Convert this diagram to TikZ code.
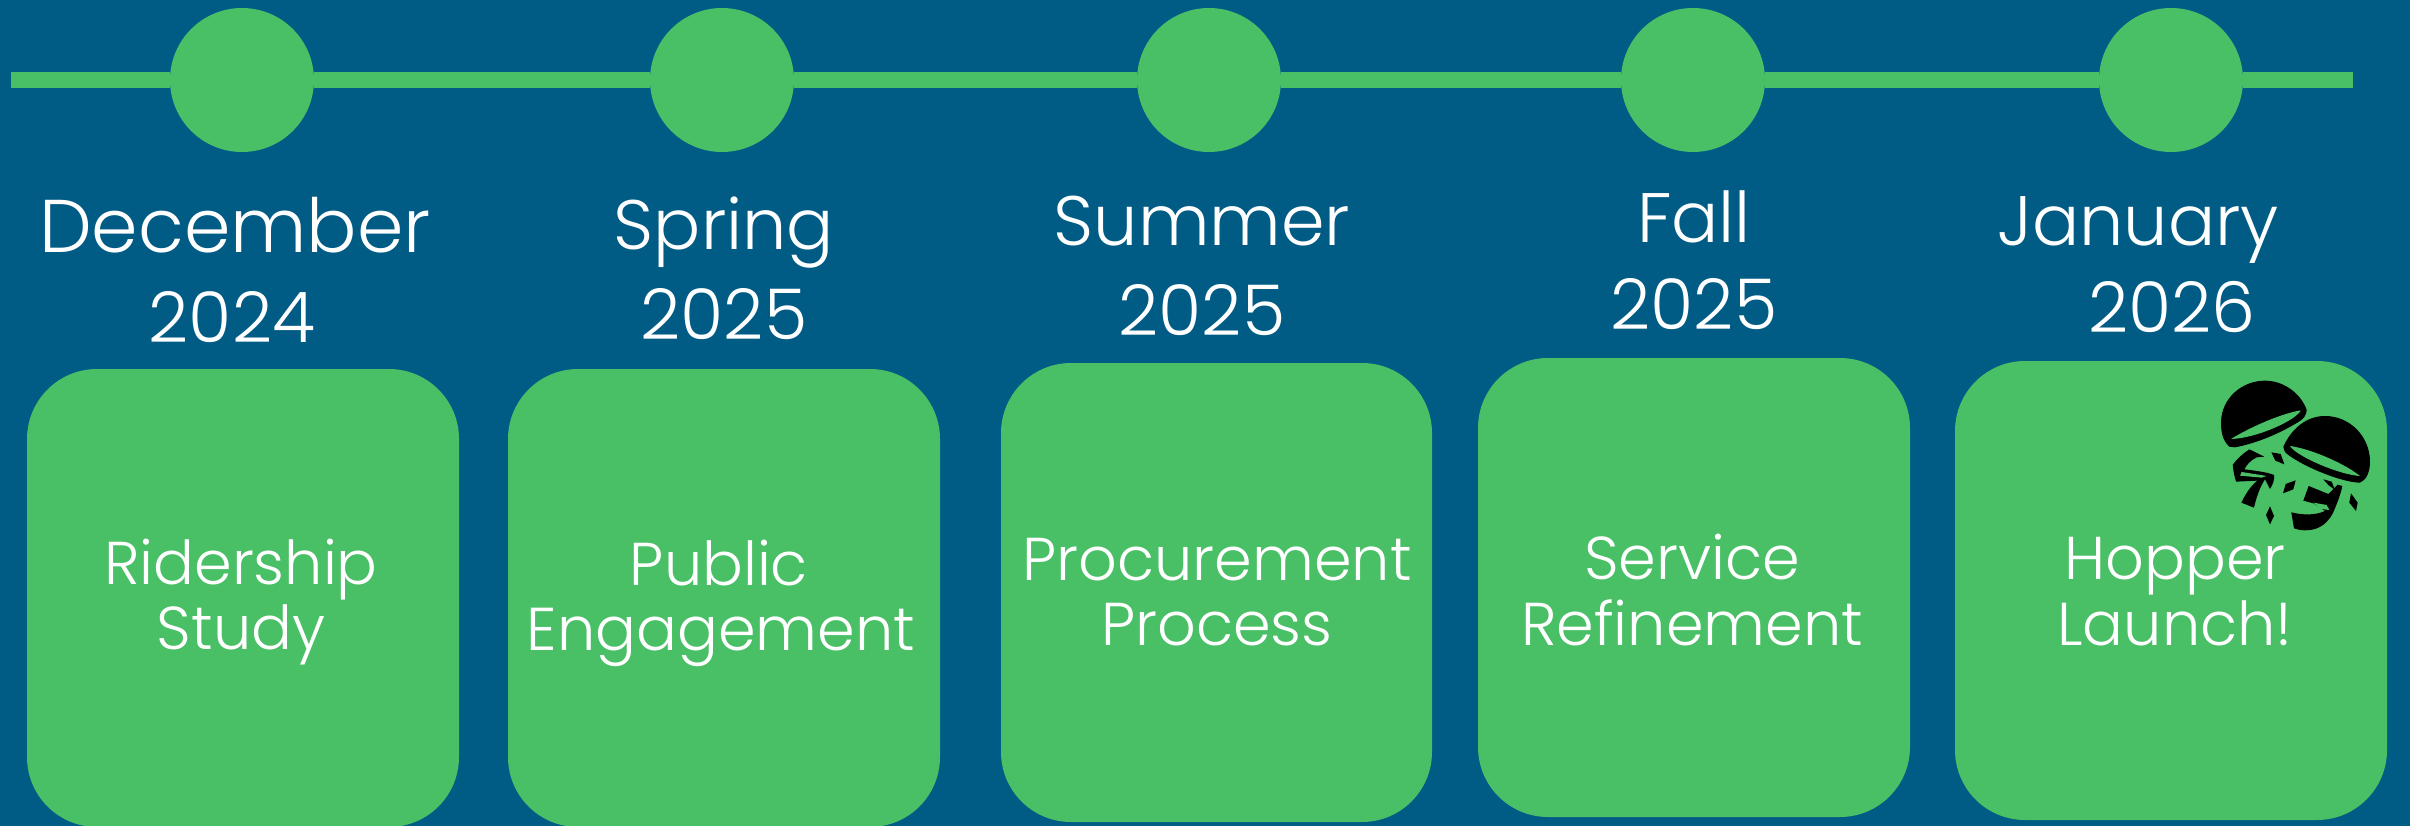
\documentclass[tikz,border=0pt]{standalone}
\usepackage{fontspec}
\setmainfont{Poppins Light}
\definecolor{bgblue}{HTML}{005B85}
\definecolor{hopgreen}{HTML}{49BF66}
\tikzset{
  dot/.style={circle,fill=hopgreen,minimum size=144pt,inner sep=0pt},
  datetxt/.style={anchor=base,text=white,font=\fontsize{70}{70}\selectfont,inner sep=0pt},
  boxtxt/.style={anchor=base,text=white,font=\fontsize{60.5}{60.5}\selectfont,inner sep=0pt},
  card/.style={fill=hopgreen,rounded corners=70pt}
}
\begin{document}
\begin{tikzpicture}[x=1pt,y=-1pt]
\path[fill=bgblue,use as bounding box] (0,0) rectangle (2410,826);
\coordinate (ls) at (11,80);
\coordinate (le) at (2353,80);
\node[dot] (c1) at (242,80) {};
\node[dot] (c2) at (722,80) {};
\node[dot] (c3) at (1209,80) {};
\node[dot] (c4) at (1693,80) {};
\node[dot] (c5) at (2171,80) {};
\draw[hopgreen,line width=16pt] (ls) -- (c1) -- (c2) -- (c3) -- (c4) -- (c5) -- (le);
\fill[card] (27,369) rectangle (459,827);
\fill[card] (508,369) rectangle (940,827);
\fill[card] (1001,363) rectangle (1432,822);
\fill[card] (1478,358) rectangle (1910,817);
\fill[card] (1955,361) rectangle (2387,820);
\node[datetxt,font=\fontsize{74.7}{74.7}\selectfont] (d1a) at (235,253) {December};
\node[datetxt] (d1b) at (232,343) {2024};
\node[datetxt] (d2a) at (724,250) {Spring};
\node[datetxt] (d2b) at (724,340) {2025};
\node[datetxt] (d3a) at (1202,246) {Summer};
\node[datetxt] (d3b) at (1202,335) {2025};
\node[datetxt] (d4a) at (1694,243) {Fall};
\node[datetxt] (d4b) at (1694,330) {2025};
\node[datetxt] (d5a) at (2138,246) {January};
\node[datetxt] (d5b) at (2172,333) {2026};
\node[boxtxt] (t1a) at (241,584) {Ridership};
\node[boxtxt] (t1b) at (241,649) {Study};
\node[boxtxt] (t2a) at (719,585) {Public};
\node[boxtxt] (t2b) at (721,650) {Engagement};
\node[boxtxt] (t3a) at (1217,580) {Procurement};
\node[boxtxt] (t3b) at (1217,645) {Process};
\node[boxtxt] (t4a) at (1692,579) {Service};
\node[boxtxt] (t4b) at (1692,645) {Refinement};
\node[boxtxt] (t5a) at (2175,579) {Hopper};
\node[boxtxt] (t5b) at (2175,645) {Launch!};
% mushroom icon, drawn in the 3x zoom coordinates
\begin{scope}[shift={(2150,340)},x=0.3333pt,y=-0.3333pt]
\fill[black] (238,320) .. controls (215,300) and (213,270) .. (213,245) .. controls (215,175) and (275,122) .. (345,122) .. controls (405,122) and (455,165) .. (470,210) .. controls (470,225) and (460,238) .. (445,246) .. controls (390,280) and (320,310) .. (255,322) -- cycle;
\fill[hopgreen] (243,297) .. controls (300,262) and (390,222) .. (452,211) .. controls (440,240) and (320,295) .. (243,297) -- cycle;
\fill[black] (400,320) .. controls (425,265) and (470,228) .. (525,228) .. controls (600,228) and (660,290) .. (660,365) .. controls (660,395) and (650,420) .. (630,428) .. controls (580,428) and (470,385) .. (415,345) .. controls (405,338) and (400,330) .. (400,320) -- cycle;
\fill[hopgreen] (420,318) .. controls (490,328) and (590,375) .. (630,408) .. controls (570,405) and (440,350) .. (420,318) -- cycle;
% fragments
\fill[black] (298,328) -- (343,350) -- (320,352) .. controls (300,362) and (290,375) .. (283,388) .. controls (315,392) and (350,396) .. (372,405) .. controls (374,420) and (368,435) .. (360,447) -- (345,418) .. controls (330,440) and (318,475) .. (312,503) -- (274,488) .. controls (285,465) and (300,440) .. (322,422) -- (258,425) .. controls (252,405) and (250,390) .. (248,375) .. controls (262,355) and (280,340) .. (298,328) -- cycle;
\fill[hopgreen] (275,396) -- (350,408) -- (335,413) -- (270,407) -- cycle;
\fill[black] (364,337) -- (392,342) -- (403,373) -- (376,362) -- cycle;
\fill[black] (437,421) -- (430,448) -- (399,460) -- (407,432) -- cycle;
\fill[black] (360,499) -- (372,528) -- (360,553) -- (348,525) -- cycle;
\fill[black] (603,460) -- (623,488) -- (618,513) -- (598,488) -- cycle;
\fill[black] (476,438) -- (535,462) -- (563,434) -- (577,438) .. controls (572,462) and (565,480) .. (555,505) .. controls (540,545) and (510,572) .. (465,571) .. controls (450,571) and (440,568) .. (432,565) -- (424,517) .. controls (455,525) and (495,527) .. (525,513) -- (490,490) -- (460,482) -- cycle;
\fill[hopgreen] (490,488) -- (530,495) -- (538,510) -- (512,507) -- cycle;
\fill[black] (520,418) -- (545,425) -- (555,450) -- (535,435) -- cycle;
\end{scope}
\end{tikzpicture}
\end{document}
